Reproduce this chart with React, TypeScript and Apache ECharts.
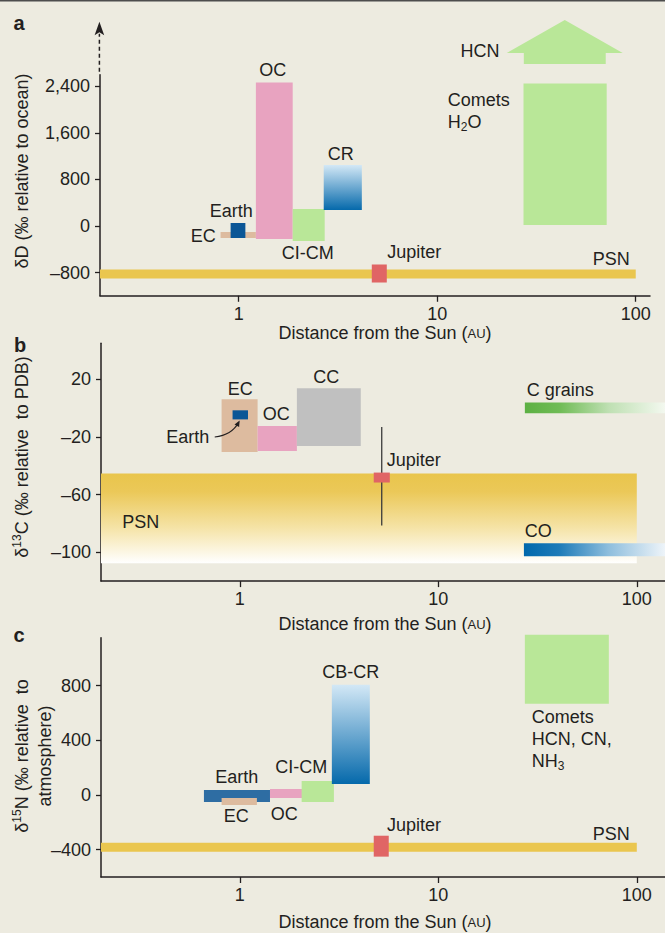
import React, { useEffect, useRef } from 'react';
import * as echarts from 'echarts';

const FONT = '"Liberation Sans", Arial, Helvetica, sans-serif';
const INK = '#231f20';
const BG = '#edebe0';

// ---------------- data ----------------
const distanceTicks = [1, 10, 100];

// panel a : deltaD (permil relative to ocean)
const dTicks = [-800, 0, 800, 1600, 2400];
// [name, AU from, AU to, value low, value high]
const dRanges: [string, number, number, number, number][] = [
  ['PSN', 0.2, 100, -903, -748],
  ['EC', 0.81, 1.22, -206, -103],
  ['Earth', 0.91, 1.08, -206, 52],
  ['OC', 1.22, 1.87, -224, 2469],
  ['CI-CM', 1.87, 2.71, -258, 292],
  ['CR', 2.68, 4.17, 275, 1049],
  ['Comets', 27.2, 71.4, 17, 2452],
  ['Jupiter', 4.68, 5.57, -972, -662],
];
const hcnArrowAU = [27.3, 27.3, 22.4, 43.9, 86.0, 70.6, 70.6];
const hcnArrowD = [2786, 2976, 2976, 3543, 2976, 2976, 2786];
const dLabels: [string, number, number, string][] = [
  ['OC', 1.484, 2683, 'center'],
  ['Earth', 0.917, 258, 'center'],
  ['EC', 0.663, -172, 'center'],
  ['CI-CM', 2.226, -464, 'center'],
  ['CR', 3.265, 1247, 'center'],
  ['Jupiter', 7.66, -439, 'center'],
  ['PSN', 75.3, -568, 'center'],
  ['HCN', 16.4, 3010, 'center'],
  ['Comets', 11.3, 2167, 'left'],
  ['{n|H}{s|2}{n|O}', 11.3, 1789, 'left'],
];

// panel b : delta13C (permil relative to PDB)
const cTicks = [-100, -60, -20, 20];
const cRanges: [string, number, number, number, number][] = [
  ['PSN', 0.2, 100, -107.6, -45.4],
  ['EC', 0.81, 1.23, -30.4, 6.1],
  ['Earth', 0.92, 1.1, -7.8, -1.5],
  ['OC', 1.23, 1.94, -29.7, -12.4],
  ['CC', 1.94, 4.07, -26.2, 13.8],
  ['C grains', 27.3, 138.7, -3.6, 4],
  ['CO', 27.0, 138.7, -102.8, -93.8],
];
const jupiterC: [number, number, number] = [5.19, -81.5, -13];
const jupiterCBox: [number, number, number, number] = [4.73, 5.7, -51.6, -44.7];
const earthPointerAU = [0.748, 0.911, 0.988];
const earthPointerC = [-20.0, -18.8, -9.8];
const cLabels: [string, number, number, string][] = [
  ['EC', 1.006, 13.1, 'center'],
  ['OC', 1.527, -3.9, 'center'],
  ['CC', 2.73, 21.7, 'center'],
  ['Earth', 0.547, -19.9, 'center'],
  ['Jupiter', 7.53, -36.2, 'center'],
  ['PSN', 0.317, -78.8, 'center'],
  ['C grains', 27.9, 12.4, 'left'],
  ['CO', 27.3, -85.4, 'left'],
];

// panel c : delta15N (permil relative to atmosphere)
const nTicks = [-400, 0, 400, 800];
const nRanges: [string, number, number, number, number][] = [
  ['PSN', 0.2, 100, -415, -349],
  ['Earth', 0.66, 1.42, -51, 37],
  ['EC', 0.81, 1.22, -73, -22],
  ['OC', 1.42, 2.08, -22, 44],
  ['CI-CM', 2.05, 2.98, -51, 102],
  ['CB-CR', 2.91, 4.52, 80, 807],
  ['Comets', 27.3, 72.3, 668, 1173],
  ['Jupiter', 4.73, 5.63, -451, -298],
];
const nLabels: [string, number, number, string][] = [
  ['Earth', 0.966, 135, 'center'],
  ['EC', 0.96, -154, 'center'],
  ['OC', 1.675, -139, 'center'],
  ['CI-CM', 2.04, 205, 'center'],
  ['CB-CR', 3.62, 903, 'center'],
  ['Jupiter', 7.55, -219, 'center'],
  ['PSN', 74.4, -282, 'center'],
  ['Comets', 29.6, 574, 'left'],
  ['HCN, CN,', 29.6, 409, 'left'],
  ['{n|NH}{s|3}', 29.6, 249, 'left'],
];

// ---------------- styles ----------------
const LG = echarts.graphic.LinearGradient;
const blueV = () => new LG(0, 0, 0, 1, [
  { offset: 0, color: '#d3e8f6' },
  { offset: 1, color: '#0569ab' },
]);
const GREEN = '#b9e798';
const TAN = '#ddbb9f';
const PINK = '#e8a3c0';
const GOLD = '#eac64f';
const RED = '#e06565';

const fillsA: Record<string, any> = {
  PSN: GOLD, EC: TAN, Earth: '#0b5696', OC: PINK, 'CI-CM': GREEN, CR: blueV(), Comets: GREEN, Jupiter: RED,
};
const fillsB: Record<string, any> = {
  PSN: new LG(0, 0, 0, 1, [
    { offset: 0, color: '#e9c54c' },
    { offset: 0.2, color: '#ebc858' },
    { offset: 0.6, color: '#f5e3a6' },
    { offset: 1, color: '#ffffff' },
  ]),
  EC: TAN, Earth: '#0b5696', OC: PINK, CC: '#c0c0c0',
  'C grains': new LG(0, 0, 1, 0, [
    { offset: 0, color: '#5cb043' },
    { offset: 0.25, color: '#70bc56' },
    { offset: 0.6, color: '#bfe0b3' },
    { offset: 1, color: '#f3f8ef' },
  ]),
  CO: new LG(0, 0, 1, 0, [
    { offset: 0, color: '#0068ac' },
    { offset: 0.25, color: '#1d7bb8' },
    { offset: 0.6, color: '#8ebedd' },
    { offset: 1, color: '#eef4f9' },
  ]),
};
const fillsC: Record<string, any> = {
  PSN: GOLD, Earth: '#2e6da3', EC: TAN, OC: PINK, 'CI-CM': GREEN, 'CB-CR': blueV(), Comets: GREEN, Jupiter: RED,
};

const RICH = {
  n: { fontSize: 18, fontFamily: FONT, lineHeight: 22, fill: INK },
  s: { fontSize: 12, fontFamily: FONT, lineHeight: 12, verticalAlign: 'bottom', fill: INK },
  sup: { fontSize: 12, fontFamily: FONT, lineHeight: 12, verticalAlign: 'top', fill: INK },
  m: { fontSize: 18, fontFamily: FONT, lineHeight: 18, fill: INK },
  sc: { fontSize: 13, fontFamily: FONT, lineHeight: 18, fill: INK },
  l: { fontSize: 18, fontFamily: FONT, lineHeight: 23, fill: INK },
};

function rectSeries(idx: number, ranges: [string, number, number, number, number][], fills: Record<string, any>) {
  return {
    type: 'custom', xAxisIndex: idx, yAxisIndex: idx, clip: false, silent: true,
    encode: { x: [0, 1], y: [2, 3] },
    data: ranges.map((r) => [r[1], r[2], r[3], r[4]]),
    renderItem: (params: any, api: any) => {
      const r = ranges[params.dataIndex];
      const p0 = api.coord([r[1], r[4]]);
      const p1 = api.coord([r[2], r[3]]);
      return {
        type: 'rect',
        shape: { x: p0[0], y: p0[1], width: p1[0] - p0[0], height: p1[1] - p0[1] },
        style: { fill: fills[r[0]] },
      };
    },
  };
}

function labelSeries(idx: number, labels: [string, number, number, string][]) {
  return {
    type: 'custom', xAxisIndex: idx, yAxisIndex: idx, clip: false, silent: true,
    encode: { x: 0, y: 1 },
    data: labels.map((l) => [l[1], l[2]]),
    renderItem: (params: any, api: any) => {
      const l = labels[params.dataIndex];
      const p = api.coord([l[1], l[2]]);
      return {
        type: 'text', x: p[0], y: p[1],
        style: {
          text: l[0], fill: INK, fontSize: 18, fontFamily: FONT,
          align: l[3], verticalAlign: 'middle', rich: RICH,
        },
      };
    },
  };
}

function fmtY(v: number) {
  const s = Math.abs(v).toLocaleString('en-US');
  return v < 0 ? '\u2013' + s : s;
}

function xAxis(idx: number, max: number) {
  return {
    type: 'log', logBase: 10, gridIndex: idx, min: 0.2, max,
    axisLine: { show: true, onZero: false, lineStyle: { color: INK, width: 1.5 } },
    axisTick: { show: true, length: 6, customValues: distanceTicks, lineStyle: { color: INK, width: 1.3 } },
    axisLabel: { customValues: distanceTicks, margin: 9, fontSize: 18, fontFamily: FONT, color: INK },
    splitLine: { show: false }, minorTick: { show: false }, minorSplitLine: { show: false },
  };
}

function yAxis(idx: number, min: number, max: number, ticks: number[]) {
  return {
    type: 'value', gridIndex: idx, min, max,
    axisLine: { show: true, onZero: false, lineStyle: { color: INK, width: 1.5 } },
    axisTick: { show: true, length: 5, customValues: ticks, lineStyle: { color: INK, width: 1.3 } },
    axisLabel: { customValues: ticks, margin: 10, fontSize: 18, fontFamily: FONT, color: INK, formatter: fmtY },
    splitLine: { show: false },
  };
}

export default function App() {
  const ref = useRef<HTMLDivElement>(null);
  useEffect(() => {
    if (!ref.current) return;
    const chart = echarts.init(ref.current, null, { renderer: 'svg' });
    const axisName = '{m|Distance from the Sun (}{sc|AU}{m|)}';
    const option: any = {
      animation: false,
      backgroundColor: BG,
      grid: [
        { left: 100, right: 15, top: 74.84, height: 220.93, outerBoundsMode: 'none' },
        { left: 101, right: 0, top: 343.3, height: 237.8, outerBoundsMode: 'none' },
        { left: 101, right: 0, top: 637.8, height: 239.2, outerBoundsMode: 'none' },
      ],
      xAxis: [xAxis(0, 118), xAxis(1, 138.7), xAxis(2, 138.7)],
      yAxis: [
        yAxis(0, -1200, 2600, dTicks),
        yAxis(1, -120, 45, cTicks),
        yAxis(2, -600, 1150, nTicks),
      ],
      graphic: [
        { type: 'rect', left: 0, top: 0, shape: { width: 665, height: 1.5 }, style: { fill: '#4d4d4d' } },
        { type: 'text', x: 19, y: 23, style: { text: 'a', font: `bold 20px ${FONT}`, fill: INK, align: 'center', verticalAlign: 'middle' } },
        { type: 'text', x: 20, y: 345, style: { text: 'b', font: `bold 20px ${FONT}`, fill: INK, align: 'center', verticalAlign: 'middle' } },
        { type: 'text', x: 19, y: 635, style: { text: 'c', font: `bold 20px ${FONT}`, fill: INK, align: 'center', verticalAlign: 'middle' } },
        { type: 'text', x: 22, y: 171, rotation: Math.PI / 2, style: { text: 'δD (‰ relative to ocean)', fontSize: 18, fontFamily: FONT, fill: INK, align: 'center', verticalAlign: 'middle' } },
        { type: 'text', x: 22, y: 457, rotation: Math.PI / 2, style: { text: '{n|δ}{sup|13}{n|C (‰ relative  to PDB)}', rich: RICH, align: 'center', verticalAlign: 'middle' } },
        { type: 'text', x: 33.5, y: 756, rotation: Math.PI / 2, style: { text: '{l|δ}{sup|15}{l|N (‰ relative  to}\n{l|atmosphere)}', rich: RICH, align: 'center', verticalAlign: 'middle' } },
        { type: 'text', x: 385, y: 333, style: { text: axisName, rich: RICH, align: 'center', verticalAlign: 'middle' } },
        { type: 'text', x: 385, y: 624, style: { text: axisName, rich: RICH, align: 'center', verticalAlign: 'middle' } },
        { type: 'text', x: 385, y: 922, style: { text: axisName, rich: RICH, align: 'center', verticalAlign: 'middle' } },
      ],
      series: [
        rectSeries(0, dRanges, fillsA),
        {
          type: 'custom', xAxisIndex: 0, yAxisIndex: 0, clip: false, silent: true,
          encode: { x: 0, y: 1 },
          data: [[hcnArrowAU[0], hcnArrowD[0]]],
          renderItem: (_p: any, api: any) => ({
            type: 'polygon',
            shape: { points: hcnArrowAU.map((x, i) => api.coord([x, hcnArrowD[i]])) },
            style: { fill: GREEN },
          }),
        },
        {
          // dashed continuation arrow on the deltaD axis
          type: 'custom', xAxisIndex: 0, yAxisIndex: 0, clip: false, silent: true,
          encode: { x: 0, y: 1 },
          data: [[0.2, 2600]],
          renderItem: (_p: any, api: any) => {
            const p = api.coord([0.2, 2600]);
            const x = p[0] - 0.6;
            return {
              type: 'group',
              children: [
                { type: 'line', shape: { x1: x, y1: p[1] - 3, x2: x, y2: p[1] - 41 }, style: { stroke: INK, lineWidth: 1.5, lineDash: [4, 3] } },
                { type: 'polygon', shape: { points: [[x, p[1] - 53], [x - 4.8, p[1] - 39.5], [x, p[1] - 42.5], [x + 4.8, p[1] - 39.5]] }, style: { fill: INK } },
              ],
            };
          },
        },
        labelSeries(0, dLabels),

        rectSeries(1, cRanges, fillsB),
        {
          type: 'custom', xAxisIndex: 1, yAxisIndex: 1, clip: false, silent: true,
          encode: { x: 0, y: 1 },
          data: [[jupiterC[0], jupiterC[1]]],
          renderItem: (_p: any, api: any) => {
            const a = api.coord([jupiterC[0], jupiterC[1]]);
            const b = api.coord([jupiterC[0], jupiterC[2]]);
            const q0 = api.coord([jupiterCBox[0], jupiterCBox[3]]);
            const q1 = api.coord([jupiterCBox[1], jupiterCBox[2]]);
            return {
              type: 'group',
              children: [
                { type: 'line', shape: { x1: a[0], y1: a[1], x2: b[0], y2: b[1] }, style: { stroke: '#3a3a3a', lineWidth: 1.3 } },
                { type: 'rect', shape: { x: q0[0], y: q0[1], width: q1[0] - q0[0], height: q1[1] - q0[1] }, style: { fill: RED } },
              ],
            };
          },
        },
        {
          type: 'custom', xAxisIndex: 1, yAxisIndex: 1, clip: false, silent: true,
          encode: { x: 0, y: 1 },
          data: [[earthPointerAU[0], earthPointerC[0]]],
          renderItem: (_p: any, api: any) => {
            const s = api.coord([earthPointerAU[0], earthPointerC[0]]);
            const c = api.coord([earthPointerAU[1], earthPointerC[1]]);
            const e = api.coord([earthPointerAU[2], earthPointerC[2]]);
            const dx = e[0] - c[0], dy = e[1] - c[1];
            const len = Math.hypot(dx, dy) || 1;
            const ux = dx / len, uy = dy / len;
            const px = -uy, py = ux;
            const tip = [e[0] + ux * 2, e[1] + uy * 2];
            const base = [e[0] - ux * 4, e[1] - uy * 4];
            return {
              type: 'group',
              children: [
                { type: 'bezierCurve', shape: { x1: s[0], y1: s[1], x2: e[0], y2: e[1], cpx1: c[0], cpy1: c[1] }, style: { stroke: INK, lineWidth: 1.2, fill: 'none' } },
                { type: 'polygon', shape: { points: [tip, [base[0] + px * 2.6, base[1] + py * 2.6], [base[0] - px * 2.6, base[1] - py * 2.6]] }, style: { fill: INK } },
              ],
            };
          },
        },
        labelSeries(1, cLabels),

        rectSeries(2, nRanges, fillsC),
        labelSeries(2, nLabels),
      ],
    };
    chart.setOption(option);
    return () => chart.dispose();
  }, []);
  return (
    <div
      ref={ref}
      style={{ position: 'absolute', left: 0, top: 0, width: 665, height: 933, background: BG }}
    />
  );
}
